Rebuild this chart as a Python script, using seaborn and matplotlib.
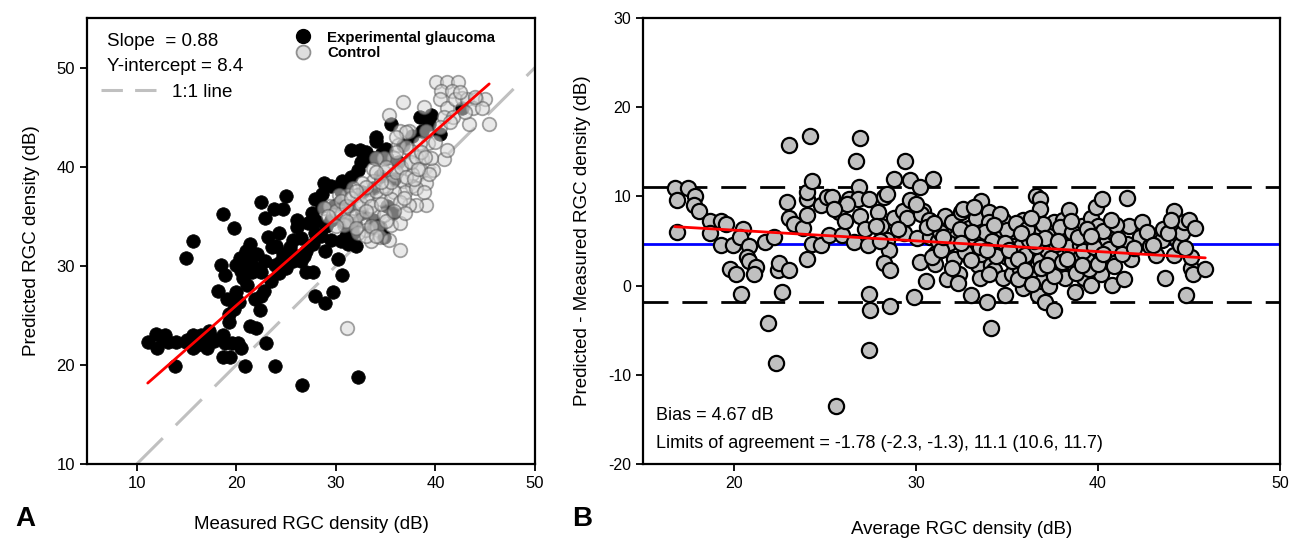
import numpy as np
import pandas as pd
import matplotlib
matplotlib.use("Agg")
import matplotlib.pyplot as plt
from matplotlib.lines import Line2D
import seaborn as sns

# ---------------- Panel A data (measured vs predicted RGC density, dB) ----------------
glaucoma_measured = [
    11.1, 11.9, 12.0, 12.8, 13.1, 13.9, 13.8, 14.9, 15.6, 15.6, 16.4, 16.6, 17.1, 17.3, 17.8,
    18.7, 18.9, 18.7, 19.4, 19.6, 20.2, 20.5, 20.9, 19.3, 19.3, 19.8, 20.3, 21.4, 22.0, 23.0,
    23.9, 26.6, 32.2, 22.4, 21.9, 22.5, 18.2, 19.1, 20.0, 18.5, 18.9, 14.9, 15.6, 18.7, 19.8,
    20.0, 20.4, 21.1, 21.4, 22.1, 21.6, 22.5, 22.9, 23.6, 23.2, 22.9, 22.5, 23.8, 24.7, 25.0,
    24.3, 24.7, 24.3, 23.9, 25.0, 25.4, 26.1, 26.1, 25.7, 26.5, 27.0, 27.7, 27.9, 28.9, 29.7,
    30.6, 30.2, 28.9, 27.7, 27.9, 27.2, 27.6, 27.9, 28.8, 28.6, 29.5, 30.6, 28.6, 29.5, 29.5,
    31.2, 31.7, 30.8, 32.2, 31.5, 32.4, 32.8, 34.0, 34.8, 35.5, 35.1, 33.8, 38.4, 39.6, 40.5,
    42.7, 35.7, 35.1, 33.7, 35.8, 36.2, 36.7, 37.6, 38.7, 39.4, 32.6, 34.4, 34.6, 30.4, 31.3,
    32.6, 33.7, 34.4, 31.9, 21.1, 20.7, 25.7, 24.0, 26.8, 21.0, 17.5, 16.0,
    28.0, 28.5, 29.0, 29.8, 30.5, 31.0, 31.5, 32.5, 33.0, 34.0, 35.0, 33.5, 31.0, 32.0, 30.5,
    27.0, 26.0, 26.5, 24.5, 23.5, 22.0, 21.5, 20.5, 22.8, 17.0, 15.0, 12.5,
]
glaucoma_predicted = [
    22.3, 23.1, 21.7, 23.0, 22.3, 22.3, 19.9, 22.3, 23.0, 21.7, 23.0, 22.2, 21.7, 23.4, 22.4,
    23.0, 22.2, 20.8, 20.8, 22.2, 22.2, 21.7, 19.9, 24.3, 25.1, 25.6, 26.3, 23.9, 23.7, 22.2,
    19.9, 18.0, 18.8, 25.5, 26.7, 27.0, 27.5, 26.7, 27.4, 30.1, 29.1, 30.8, 32.5, 35.2, 33.8,
    30.1, 30.8, 30.5, 32.2, 31.2, 29.4, 29.4, 30.5, 31.9, 32.9, 34.8, 36.4, 35.7, 35.7, 37.0,
    33.3, 31.2, 29.3, 30.1, 29.8, 31.9, 34.6, 33.9, 32.6, 30.5, 29.4, 29.4, 27.0, 26.2, 27.4,
    29.1, 30.7, 31.5, 32.2, 33.3, 34.3, 35.3, 36.7, 38.4, 37.2, 38.1, 38.6, 36.0, 34.6, 32.6,
    32.2, 33.3, 34.3, 39.7, 41.7, 41.7, 40.9, 42.6, 32.9, 44.3, 40.9, 40.9, 45.0, 45.2, 43.3,
    45.9, 35.3, 36.0, 37.8, 38.8, 40.5, 42.2, 43.1, 43.6, 44.3, 37.4, 39.1, 41.4, 36.4, 36.0,
    35.3, 34.6, 33.9, 34.3, 28.1, 28.8, 30.5, 32.0, 31.0, 31.5, 22.8, 22.0,
    34.5, 33.0, 34.0, 36.0, 37.5, 38.0, 39.0, 40.5, 41.5, 43.0, 41.8, 33.8, 33.0, 32.0, 32.5,
    31.5, 31.0, 32.8, 30.5, 28.5, 29.8, 30.8, 29.5, 27.5, 22.8, 22.5, 22.8,
]
control_measured = [
    31.1, 36.4, 33.5, 35.5, 39.1, 38.0, 37.3, 39.1, 39.8, 40.9, 41.2, 36.7, 35.3, 38.9, 40.1,
    41.2, 42.3, 40.6, 41.7, 42.7, 40.5, 41.2, 42.0, 43.2, 44.1, 45.0, 43.4, 45.4, 43.8, 44.7,
    40.9, 41.8, 39.1, 39.3, 38.4, 37.3, 36.4, 36.2, 37.5, 38.7, 39.6, 38.4, 39.4, 37.6, 36.9,
    35.8, 34.8, 34.0, 33.7, 34.8, 35.8, 36.7, 37.6, 36.9, 35.8, 34.8, 33.7, 32.6, 31.7, 32.1,
    31.2, 30.3, 29.4, 28.8, 29.7, 30.6, 31.5, 32.4, 33.3, 34.4, 35.5, 36.4, 33.7, 32.6, 31.5,
    30.8, 33.0, 34.1, 34.8, 32.2, 33.0, 34.4, 35.3, 36.4, 36.9, 38.0, 38.9,
    30.0, 30.5, 31.0, 31.5, 32.0, 32.5, 33.0, 33.5, 34.0, 34.5, 35.0, 35.5, 36.0, 36.5, 37.0,
    37.5, 38.0, 38.5, 37.0, 36.0, 35.0, 34.5, 33.0, 32.0, 31.0, 30.0, 29.2, 33.5, 34.0, 35.0,
    35.8, 36.8, 37.8, 38.2, 39.0, 40.0, 40.5, 41.5, 42.5, 43.0, 44.0, 37.0, 36.0, 34.0, 33.0,
    32.0,
]
control_predicted = [
    23.7, 31.6, 32.5, 34.1, 36.1, 36.1, 36.1, 38.4, 39.7, 40.8, 41.7, 46.5, 45.2, 46.0, 48.5,
    48.5, 48.5, 47.6, 47.6, 46.9, 46.8, 45.9, 46.8, 46.8, 46.8, 46.8, 44.3, 44.3, 45.9, 45.9,
    45.0, 45.0, 43.6, 42.4, 42.4, 43.6, 43.6, 42.2, 41.6, 40.9, 40.9, 39.8, 39.3, 39.3, 40.3,
    40.9, 40.9, 40.9, 39.8, 39.5, 39.3, 38.6, 38.1, 37.4, 37.4, 38.1, 38.6, 38.4, 37.9, 37.1,
    37.1, 37.1, 36.0, 35.8, 35.1, 35.3, 35.7, 36.0, 36.4, 36.7, 36.7, 36.4, 35.3, 34.6, 34.5,
    34.1, 33.6, 33.9, 35.1, 33.3, 33.0, 32.9, 32.6, 34.3, 35.3, 37.8, 37.4,
    35.5, 36.5, 36.0, 36.8, 35.0, 36.2, 37.0, 36.0, 37.5, 36.2, 37.8, 38.5, 39.5, 40.0, 39.0,
    40.5, 41.0, 41.5, 42.0, 41.5, 40.0, 38.5, 38.0, 37.5, 34.5, 34.0, 35.0, 34.0, 33.0, 34.5,
    35.5, 36.8, 38.8, 39.8, 41.0, 42.5, 44.0, 44.5, 47.5, 45.5, 47.0, 43.5, 43.0, 39.5, 35.5,
    33.8,
]
slope_a = 0.88
intercept_a = 8.4
identity_range = [10, 50]

# ---------------- Panel B data (Bland-Altman) ----------------
ba_average = [
    16.75, 16.9, 16.9, 17.5, 17.85, 17.8, 18.1, 18.7, 18.7, 19.3, 19.55, 19.3, 19.95, 19.8, 20.1,
    20.5, 20.35, 20.85, 20.7, 20.85, 21.2, 21.1, 20.4, 21.7, 22.2, 21.9, 22.3, 22.4, 22.5, 22.65,
    23.0, 23.0, 22.9, 23.0, 23.3, 23.8, 24.0, 24.0, 24.0, 24.2, 24.0, 24.3, 24.3, 24.8, 24.8,
    25.1, 25.2, 25.6, 25.4, 25.8, 25.95, 26.1, 26.35, 26.7, 26.95, 26.85, 26.8, 26.6, 26.95, 27.2,
    27.35, 27.4, 27.4, 27.5, 27.4, 27.9, 28.1, 28.25, 28.4, 28.4, 28.5, 28.25, 28.6, 28.6, 28.8,
    28.8, 29.3, 29.4, 29.5, 29.35, 29.65, 30.05, 29.9, 30.2, 30.4, 30.3, 30.2, 30.55, 30.95, 30.7,
    30.8, 31.05, 31.2, 31.05, 31.7, 31.6, 32.0, 32.1, 32.2, 32.5, 32.6, 32.35, 32.8, 32.9, 33.05,
    33.3, 33.3, 33.4, 33.5, 33.6, 33.6, 33.75, 33.9, 34.0, 34.0, 34.1, 34.15, 34.3, 34.5, 34.65,
    34.8, 34.8, 34.9, 35.0, 35.2, 35.3, 35.4, 35.7, 35.8, 35.9, 35.9, 35.9, 36.2, 36.2, 36.3,
    36.45, 36.6, 36.8, 36.8, 36.7, 36.7, 36.8, 36.95, 37.1, 37.2, 37.35, 37.5, 37.6, 37.6, 37.85,
    37.95, 38.1, 38.25, 38.4, 38.6, 38.75, 38.75, 38.9, 39.0, 39.1, 39.25, 39.4, 39.6, 39.6, 39.75,
    39.9, 40.0, 40.15, 40.2, 40.15, 40.4, 40.5, 40.8, 40.8, 40.9, 41.2, 41.45, 41.6, 41.6, 41.7,
    41.8, 42.3, 42.45, 42.85, 43.2, 43.5, 43.6, 43.7, 44.2, 44.2, 44.35, 44.5, 44.6, 44.75, 44.85,
    45.0, 45.1, 45.1, 45.2, 45.35, 45.9, 43.85, 44.0,
    31.3, 31.8, 32.4, 32.7, 33.0, 33.2, 33.8, 34.2, 34.4, 34.6, 35.0, 35.3, 35.5, 35.6, 36.0,
    36.1, 36.4, 36.6, 36.9, 37.0, 37.3, 37.4, 37.7, 37.9, 38.0, 38.2, 38.4, 38.6, 38.8, 39.0,
    39.2, 39.5, 39.8, 40.0, 40.3, 40.6, 40.9, 41.0, 41.3, 30.6, 30.9, 31.4, 32.0, 32.3, 33.5,
    34.0, 34.9, 35.8, 36.3, 37.1, 37.6, 38.9, 39.4, 40.7, 29.0, 29.7, 30.0, 28.0, 27.8, 26.2,
    25.5,
    31.0, 31.5, 32.5, 33.1, 33.9, 34.3, 35.1, 35.6, 36.0, 36.5, 37.2, 37.8, 38.3, 38.5, 39.1,
    39.6, 40.3, 41.1, 42.0, 42.7, 43.0, 44.8,
]
ba_difference = [
    11.0, 9.55, 6.0, 11.0, 10.1, 9.0, 8.4, 7.2, 5.9, 7.2, 6.9, 4.6, 4.6, 1.9, 1.3,
    6.3, 5.5, 4.4, 3.2, 2.8, 2.1, 1.3, -0.9, 4.9, 5.4, -4.2, -8.7, 1.7, 2.5, -0.7,
    1.7, 15.8, 9.4, 7.6, 6.9, 6.5, 3.0, 9.7, 10.5, 16.8, 7.9, 11.7, 4.7, 4.6, 9.0,
    9.9, 5.7, -13.5, 9.9, 8.2, 5.7, 7.2, 9.7, 14.0, 16.5, 11.1, 9.7, 4.9, 7.8, 6.3,
    4.6, 9.7, -0.9, -2.7, -7.2, 8.2, 6.7, 9.9, 10.3, 5.1, 4.0, 2.5, 1.7, -2.3, 12.0,
    7.6, 8.4, 14.0, 7.6, 5.9, 11.8, 5.3, -1.3, 11.1, 8.4, 8.0, 2.6, 0.5, 12.0, 7.4,
    5.5, 3.6, 5.0, 2.45, 0.7, 7.8, 7.1, 3.0, 5.5, 8.2, 8.6, 1.3, 4.4, 6.5, -1.0,
    7.6, 5.1, 2.3, 0.9, 9.5, 3.6, 5.5, -1.8, 8.2, 7.1, -4.8, 2.3, 1.7, 4.4, 6.3,
    7.4, 0.9, -1.0, 3.2, 5.7, 1.3, 4.4, 1.9, 4.4, 7.4, -0.3, 2.5, 5.1, 1.3, 3.6,
    5.5, 10.1, 9.7, 8.6, 6.7, -1.0, 2.9, 0.5, -1.8, 4.0, 5.9, 1.7, -2.7, 7.1, 3.6,
    5.5, 7.4, 1.3, 8.5, 5.1, 2.0, -0.7, 3.6, 5.9, 6.7, 0.9, 2.9, 0.1, 7.6, 5.1,
    8.8, 6.7, 3.6, 9.7, 1.3, 2.9, 5.1, 3.2, 0.1, 5.9, 4.4, 0.7, 9.8, 4.7, 6.7,
    3.0, 5.5, 7.1, 4.4, 3.4, 5.1, 6.3, 0.9, 3.4, 8.4, 5.1, 4.6, 5.9, 7.1, -1.1,
    7.4, 2.0, 3.2, 1.3, 6.5, 1.9, 5.9, 7.4,
    6.0, 4.8, 6.3, 3.8, 2.9, 8.8, 6.0, 5.0, 3.3, 8.0, 6.2, 2.8, 7.0, 0.7, 3.4,
    6.4, 0.2, 4.4, 2.0, 6.9, 0.0, 3.1, 4.7, 6.6, 2.6, 0.8, 4.3, 6.0, 1.4, 4.6,
    3.9, 1.9, 4.3, 2.4, 6.1, 4.1, 2.2, 6.8, 3.6, 6.6, 3.2, 4.0, 2.0, 0.3, 4.3,
    1.3, 4.8, 5.9, 7.6, 5.3, 1.1, 5.4, 6.3, 7.4, 6.4, 9.6, 9.2, 5.0, 6.7, 9.2,
    8.6,
    7.0, 5.5, 4.8, 6.0, 4.0, 6.8, 4.0, 3.0, 1.8, 5.0, 2.3, 5.0, 3.0, 7.2, 2.3,
    5.6, 3.6, 5.2, 4.2, 6.0, 4.6, 4.2,
]
bias = 4.67
lower_loa = -1.78
upper_loa = 11.1
slope_b = -0.12
intercept_b = 8.62

# ---------------- styling ----------------
sns.set_theme(style="ticks")
plt.rcParams["font.family"] = ["Liberation Sans", "DejaVu Sans"]
plt.rcParams["axes.unicode_minus"] = False
plt.rcParams["text.color"] = "black"
plt.rcParams["axes.labelcolor"] = "black"
plt.rcParams["axes.linewidth"] = 1.6
plt.rcParams["xtick.major.width"] = 1.3
plt.rcParams["ytick.major.width"] = 1.3
plt.rcParams["xtick.major.size"] = 5
plt.rcParams["ytick.major.size"] = 5
plt.rcParams["xtick.color"] = "black"
plt.rcParams["ytick.color"] = "black"
plt.rcParams["xtick.labelcolor"] = "black"
plt.rcParams["ytick.labelcolor"] = "black"
plt.rcParams["axes.edgecolor"] = "black"

fig = plt.figure(figsize=(12.91, 5.38), dpi=100)
axA = fig.add_axes([0.0674, 0.1375, 0.347, 0.829])
axB = fig.add_axes([0.498, 0.1375, 0.4934, 0.829])

# ---------------- Panel A ----------------
dfg = pd.DataFrame({"m": glaucoma_measured, "p": glaucoma_predicted})
dfc = pd.DataFrame({"m": control_measured, "p": control_predicted})

sns.lineplot(x=identity_range, y=identity_range, ax=axA, color="#c0c0c0",
             linewidth=2.2, zorder=1)
axA.lines[-1].set_dashes([12, 6])
sns.scatterplot(data=dfg, x="m", y="p", ax=axA, s=95, color="black",
                edgecolor="black", linewidth=0.5, zorder=2, legend=False)
sns.scatterplot(data=dfc, x="m", y="p", ax=axA, s=95, color="#d8d8d8",
                edgecolor="#5a5a5a", linewidth=1.3, alpha=0.55, zorder=3, legend=False)
xr = np.array([min(glaucoma_measured), 45.4])
sns.lineplot(x=xr, y=slope_a * xr + intercept_a, ax=axA, color="red", linewidth=2, zorder=4)

axA.set_xlim(5, 50)
axA.set_ylim(10, 55)
axA.set_xticks([10, 20, 30, 40, 50])
axA.set_yticks([10, 20, 30, 40, 50])
axA.tick_params(labelsize=12, direction="out", top=False, right=False)
axA.set_xlabel("Measured RGC density (dB)", fontsize=13.5, labelpad=18)
axA.set_ylabel("Predicted RGC density (dB)", fontsize=13.5, labelpad=12)
for sp in axA.spines.values():
    sp.set_visible(True)

axA.text(0.045, 0.948, "Slope  = 0.88", transform=axA.transAxes, fontsize=13.5,
         va="center", ha="left")
axA.text(0.045, 0.892, "Y-intercept = 8.4", transform=axA.transAxes, fontsize=13.5,
         va="center", ha="left")
h_id = [Line2D([0], [0], color="#c0c0c0", lw=2.2, dashes=[7, 4])]
leg1 = axA.legend(h_id, ["1:1 line"], loc="center left", bbox_to_anchor=(0.015, 0.834),
                  frameon=False, fontsize=13.5, handlelength=3.3, handletextpad=0.5,
                  borderaxespad=0)
axA.add_artist(leg1)
h_grp = [Line2D([0], [0], marker="o", ls="", markersize=10, markerfacecolor="black",
                markeredgecolor="black"),
         Line2D([0], [0], marker="o", ls="", markersize=10, markerfacecolor="#dedede",
                markeredgecolor="#909090", markeredgewidth=1.3)]
axA.legend(h_grp, ["Experimental glaucoma", "Control"], loc="upper left",
           bbox_to_anchor=(0.435, 0.985), frameon=False, prop={"weight": "bold", "size": 10.8},
           handletextpad=0.6, labelspacing=0.1, borderaxespad=0)

# ---------------- Panel B ----------------
dfb = pd.DataFrame({"avg": ba_average, "diff": ba_difference})
sns.scatterplot(data=dfb, x="avg", y="diff", ax=axB, s=120, color="#c0c0c0",
                edgecolor="black", linewidth=1.6, zorder=3, legend=False)
axB.axhline(bias, color="#0000ff", linewidth=2, zorder=2)
axB.axhline(lower_loa, color="black", linewidth=2, dashes=[9, 5], zorder=2)
axB.axhline(upper_loa, color="black", linewidth=2, dashes=[9, 5], zorder=2)
xb = np.array([min(ba_average), max(ba_average)])
sns.lineplot(x=xb, y=slope_b * xb + intercept_b, ax=axB, color="red", linewidth=2, zorder=4)

axB.set_xlim(15, 50)
axB.set_ylim(-20, 30)
axB.set_xticks([20, 30, 40, 50])
axB.set_yticks([-20, -10, 0, 10, 20, 30])
axB.tick_params(labelsize=11.5, direction="out", top=False, right=False)
for lab in axB.get_xticklabels() + axB.get_yticklabels():
    lab.set_family(["Liberation Sans Narrow", "Liberation Sans", "DejaVu Sans"])
axB.set_xlabel("Average RGC density (dB)", fontsize=13.5, labelpad=22)
axB.set_ylabel("Predicted - Measured RGC density (dB)", fontsize=13.5, labelpad=12)
axB.text(0.02, 0.108, "Bias = 4.67 dB", transform=axB.transAxes, fontsize=13,
         va="center", ha="left")
axB.text(0.02, 0.046, "Limits of agreement = -1.78 (-2.3, -1.3), 11.1 (10.6, 11.7)",
         transform=axB.transAxes, fontsize=13, va="center", ha="left")

fig.text(0.012, 0.012, "A", fontsize=20, fontweight="bold", ha="left", va="bottom")
fig.text(0.443, 0.012, "B", fontsize=20, fontweight="bold", ha="left", va="bottom")

fig.savefig("out.png", dpi=100)
